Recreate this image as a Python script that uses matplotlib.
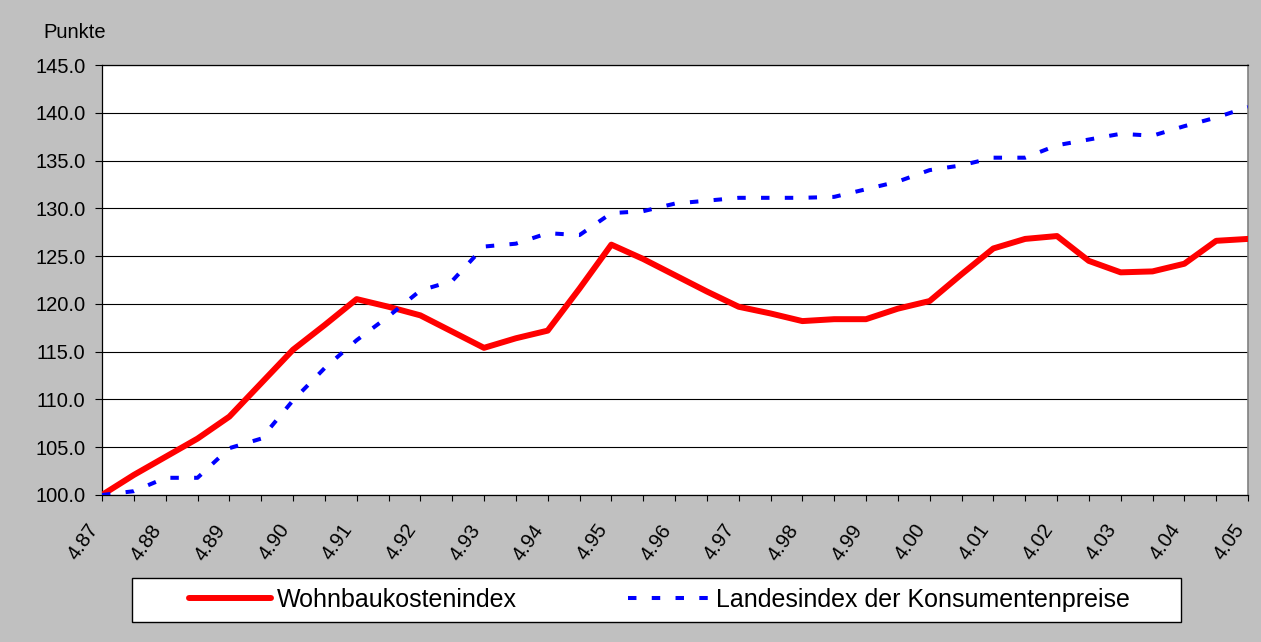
import matplotlib
matplotlib.use("Agg")
import matplotlib.pyplot as plt
from matplotlib.ticker import MultipleLocator, FixedLocator, FixedFormatter
from matplotlib.patches import Rectangle

plt.rcParams['font.family'] = ['Liberation Sans', 'DejaVu Sans']

# half-year steps from 4.87 to 4.05, labels only every second point
x_labels = ['4.87', '4.88', '4.89', '4.90', '4.91', '4.92', '4.93', '4.94', '4.95',
            '4.96', '4.97', '4.98', '4.99', '4.00', '4.01', '4.02', '4.03', '4.04', '4.05']

wohnbau = [100.0, 102.1, 104.0, 105.9, 108.2, 111.7, 115.2, 117.8, 120.5, 119.7,
           118.8, 117.1, 115.4, 116.4, 117.2, 121.6, 126.2, 124.7, 123.0, 121.3,
           119.7, 119.0, 118.2, 118.4, 118.4, 119.5, 120.3, 123.1, 125.8, 126.8,
           127.1, 124.5, 123.3, 123.4, 124.2, 126.6, 126.8]

landesindex = [100.0, 100.4, 101.8, 101.8, 104.9, 105.9, 109.9, 113.3, 116.2, 118.7,
               121.4, 122.4, 126.0, 126.3, 127.4, 127.2, 129.5, 129.7, 130.5, 130.8,
               131.1, 131.1, 131.1, 131.2, 132.0, 132.8, 134.0, 134.5, 135.3, 135.3,
               136.6, 137.2, 137.8, 137.6, 138.6, 139.5, 140.6]

W, H = 1261, 642
fig = plt.figure(figsize=(W / 100, H / 100), dpi=100, facecolor='#C0C0C0')
ax = fig.add_axes([102 / W, 1 - 495 / H, (1248 - 102) / W, (495 - 65) / H])
ax.set_facecolor('white')

xs = list(range(len(wohnbau)))
ax.plot(xs, wohnbau, color='#FF0000', lw=4.3, solid_capstyle='round',
        solid_joinstyle='round', label='Wohnbaukostenindex', zorder=3)
ax.plot(xs, landesindex, color='#0000FF', lw=2.9, dashes=(2.1, 3.8),
        dash_capstyle='butt', label='Landesindex der Konsumentenpreise', zorder=3)

ax.set_xlim(0, len(xs) - 1)
ax.set_ylim(100, 145)
ax.yaxis.set_major_locator(MultipleLocator(5))
ax.yaxis.set_major_formatter(plt.FormatStrFormatter('%.1f'))
ax.grid(axis='y', color='black', lw=0.8)
ax.set_axisbelow(True)

ax.xaxis.set_major_locator(FixedLocator(list(range(0, len(xs), 2))))
ax.xaxis.set_major_formatter(FixedFormatter(x_labels))
ax.xaxis.set_minor_locator(MultipleLocator(1))
ax.tick_params(axis='x', which='both', direction='out', length=4.5, width=0.8,
               labelsize=14.5, pad=14)
ax.tick_params(axis='y', direction='out', length=5, width=0.8, labelsize=14.5, pad=7)
for lab in ax.get_xticklabels():
    lab.set_rotation(55)
    lab.set_ha('right')
    lab.set_va('top')

for s in ['left', 'bottom', 'top']:
    ax.spines[s].set_color('black')
    ax.spines[s].set_linewidth(0.9)
ax.spines['right'].set_color('#808080')
ax.spines['right'].set_linewidth(1.2)

fig.text(43 / W, 1 - 33 / H, 'Punkte', fontsize=14.5, ha='left', va='center')

# legend box
fig.patches.append(Rectangle((132 / W, 1 - 622 / H), (1181 - 132) / W, 44 / H,
                             transform=fig.transFigure, facecolor='white',
                             edgecolor='black', lw=1.0))
fig.legend(loc='center', bbox_to_anchor=(659 / W, 1 - 600 / H), frameon=False,
           ncol=2, fontsize=18, handlelength=3.28, handletextpad=0.24,
           columnspacing=4.44)

fig.savefig('out.png', dpi=100, facecolor=fig.get_facecolor())
